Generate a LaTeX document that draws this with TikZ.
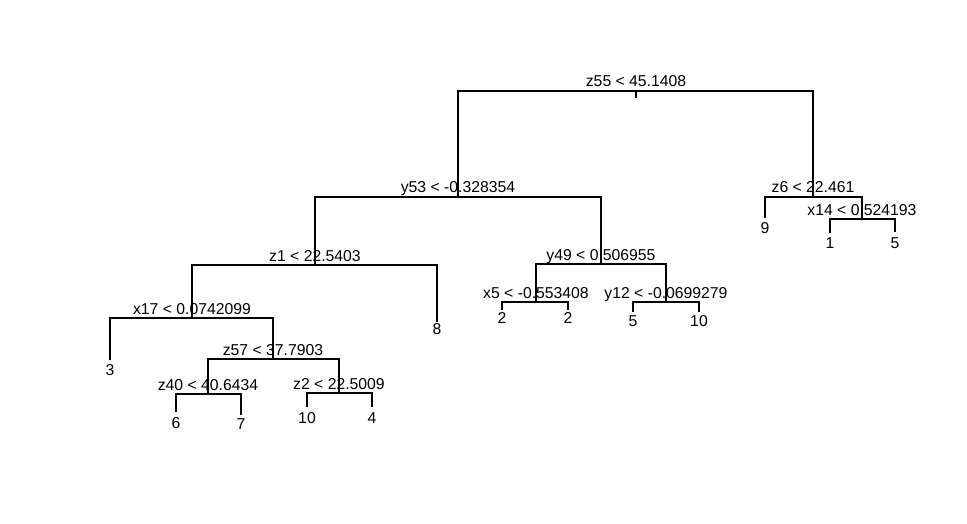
\documentclass[tikz,border=0pt]{standalone}
\usepackage{fontspec}
\setmainfont{Liberation Sans}
\begin{document}
\begin{tikzpicture}[x=1pt,y=-1pt,
  branch/.style={draw=black, line width=1.1pt},
  splitlabel/.style={anchor=base, inner sep=0pt, font=\fontsize{15.75}{18}\selectfont},
  leaflabel/.style={anchor=north, inner sep=0pt, font=\fontsize{15.75}{18}\selectfont}]
\useasboundingbox (0,0) rectangle (967,524);
\fill[white] (0,0) rectangle (967,524);
% tree nodes
\coordinate (root) at (636,91);
\coordinate (roottick) at (636,98);
\coordinate (n1) at (458,197);
\coordinate (n2) at (813,197);
\coordinate (l9) at (765,218);
\coordinate (n3) at (862,219);
\coordinate (l1) at (830,233);
\coordinate (l5a) at (895,232);
\coordinate (n4) at (315,265);
\coordinate (n5) at (601,264);
\coordinate (l8) at (437,322);
\coordinate (n6) at (192,318);
\coordinate (l3) at (110,360);
\coordinate (n7) at (273,359);
\coordinate (n8) at (208,394);
\coordinate (l6) at (176,412);
\coordinate (l7) at (241,415);
\coordinate (n9) at (339,393);
\coordinate (l10a) at (307,407);
\coordinate (l4) at (372,407);
\coordinate (n10) at (536,302);
\coordinate (l2a) at (502,310);
\coordinate (l2b) at (568,310);
\coordinate (n11) at (666,302);
\coordinate (l5b) at (633,312);
\coordinate (l10b) at (699,312);
% branches
\draw[branch] (root) -- (roottick);
\draw[branch] (n1) |- (root) -| (n2);
\draw[branch] (n4) |- (n1) -| (n5);
\draw[branch] (l9) |- (n2) -| (n3);
\draw[branch] (l1) |- (n3) -| (l5a);
\draw[branch] (n6) |- (n4) -| (l8);
\draw[branch] (n10) |- (n5) -| (n11);
\draw[branch] (l3) |- (n6) -| (n7);
\draw[branch] (n8) |- (n7) -| (n9);
\draw[branch] (l6) |- (n8) -| (l7);
\draw[branch] (l10a) |- (n9) -| (l4);
\draw[branch] (l2a) |- (n10) -| (l2b);
\draw[branch] (l5b) |- (n11) -| (l10b);
% split labels
\node[splitlabel, yshift=4pt] (troot) at (root) {z55 < 45.1408};
\node[splitlabel, yshift=4.5pt] (tn1) at (n1) {y53 < -0.328354};
\node[splitlabel, yshift=4pt] (tn2) at (n2) {z6 < 22.461};
\node[splitlabel, yshift=4pt] (tn3) at (n3) {x14 < 0.524193};
\node[splitlabel, yshift=4pt] (tn4) at (n4) {z1 < 22.5403};
\node[splitlabel, yshift=4pt] (tn5) at (n5) {y49 < 0.506955};
\node[splitlabel, yshift=4pt] (tn6) at (n6) {x17 < 0.0742099};
\node[splitlabel, yshift=4pt] (tn7) at (n7) {z57 < 37.7903};
\node[splitlabel, yshift=4pt] (tn8) at (n8) {z40 < 40.6434};
\node[splitlabel, yshift=4pt] (tn9) at (n9) {z2 < 22.5009};
\node[splitlabel, yshift=4pt] (tn10) at (n10) {x5 < -0.553408};
\node[splitlabel, yshift=4pt] (tn11) at (n11) {y12 < -0.0699279};
% leaf labels
\node[leaflabel] (t9) at (765,222) {9};
\node[leaflabel] (t1) at (830,237) {1};
\node[leaflabel] (t5a) at (895,237) {5};
\node[leaflabel] (t8) at (437,323) {8};
\node[leaflabel] (t3) at (110,364) {3};
\node[leaflabel] (t6) at (176,417) {6};
\node[leaflabel] (t7) at (241,418) {7};
\node[leaflabel] (t10a) at (307,412) {10};
\node[leaflabel] (t4) at (372,412) {4};
\node[leaflabel] (t2a) at (502,312) {2};
\node[leaflabel] (t2b) at (568,312) {2};
\node[leaflabel] (t5b) at (633,315) {5};
\node[leaflabel] (t10b) at (699,315) {10};
\end{tikzpicture}
\end{document}
